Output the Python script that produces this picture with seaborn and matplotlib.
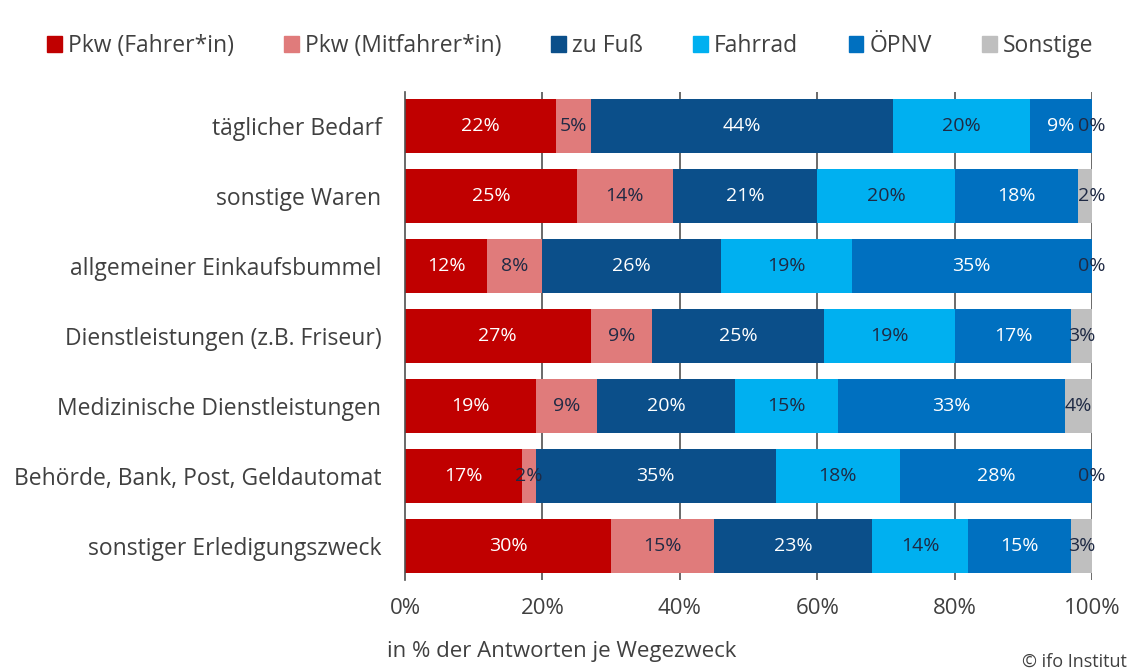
import numpy as np
import pandas as pd
import matplotlib.pyplot as plt
import seaborn as sns

categories = [
    "täglicher Bedarf",
    "sonstige Waren",
    "allgemeiner Einkaufsbummel",
    "Dienstleistungen (z.B. Friseur)",
    "Medizinische Dienstleistungen",
    "Behörde, Bank, Post, Geldautomat",
    "sonstiger Erledigungszweck",
]
modes = ["Pkw (Fahrer*in)", "Pkw (Mitfahrer*in)", "zu Fuß", "Fahrrad", "ÖPNV", "Sonstige"]

pkw_fahrer = [22, 25, 12, 27, 19, 17, 30]
pkw_mitfahrer = [5, 14, 8, 9, 9, 2, 15]
zu_fuss = [44, 21, 26, 25, 20, 35, 23]
fahrrad = [20, 20, 19, 19, 15, 18, 14]
oepnv = [9, 18, 35, 17, 33, 28, 15]
sonstige = [0, 2, 0, 3, 4, 0, 3]

colors = ["#c00000", "#e07b7b", "#0b4f8a", "#00b0f0", "#0070c0", "#bfbfbf"]
label_colors = ["white", "#1f2a44", "white", "#1f2a44", "white", "#1f2a44"]

df = pd.DataFrame(
    [pkw_fahrer, pkw_mitfahrer, zu_fuss, fahrrad, oepnv, sonstige],
    index=modes, columns=categories,
).T
cum = df.cumsum(axis=1)

sns.set_theme(style="white")
plt.rcParams["font.family"] = ["Open Sans", "DejaVu Sans"]
text_col = "#404040"

fig = plt.figure(figsize=(11.4, 6.69), dpi=100)
ax = fig.add_axes([0.3553, 0.133, 0.6026, 0.7294])

# vertical grid behind bars
for xv in [20, 40, 60, 80, 100]:
    ax.axvline(xv, color="#505050", lw=1.2, zorder=0)

# stacked bars: draw cumulative totals from the last segment backwards
for i in range(len(modes) - 1, -1, -1):
    plot_df = pd.DataFrame({"cat": categories, "val": cum.iloc[:, i].values})
    sns.barplot(data=plot_df, x="val", y="cat", order=categories, color=colors[i],
                saturation=1, width=0.77, orient="h", ax=ax, zorder=2, edgecolor="none")

for r, cat in enumerate(categories):
    for i, m in enumerate(modes):
        v = df.loc[cat, m]
        xc = cum.loc[cat, m] - v / 2
        if v <= 2 and cum.loc[cat, m] >= 99.5:
            xc = 100
        ax.text(xc, r, f"{v}%", ha="center", va="center", fontsize=14,
                color=label_colors[i], zorder=5)

ax.set_xlim(0, 100)
ax.set_ylim(6.48, -0.48)
ax.set_xticks([0, 20, 40, 60, 80, 100])
ax.set_xticklabels([f"{t}%" for t in [0, 20, 40, 60, 80, 100]], fontsize=16, color=text_col)
ax.tick_params(axis="x", length=0, pad=13)
ax.tick_params(axis="y", length=0, pad=17, labelsize=16.5, labelcolor=text_col)
ax.set_xlabel("")
ax.set_ylabel("")
for s in ["top", "right", "bottom"]:
    ax.spines[s].set_visible(False)
ax.spines["left"].set_color("#505050")
ax.spines["left"].set_linewidth(1.2)

handles = [plt.Rectangle((0, 0), 1, 1, color=c) for c in colors]
fig.legend(handles, modes, loc="center", bbox_to_anchor=(0.5, 0.931), ncol=6,
           frameon=False, fontsize=16.5, handlelength=0.65, handleheight=0.65,
           handletextpad=0.25, columnspacing=2.2, labelcolor=text_col)

fig.text(387 / 1140, 1 - 652 / 669, "in % der Antworten je Wegezweck", fontsize=16,
         color=text_col, ha="left", va="center")
fig.text(1022 / 1140, 1 - 662 / 669, "© ifo Institut", fontsize=13,
         color=text_col, ha="left", va="center")

fig.savefig("out.png", dpi=100)
